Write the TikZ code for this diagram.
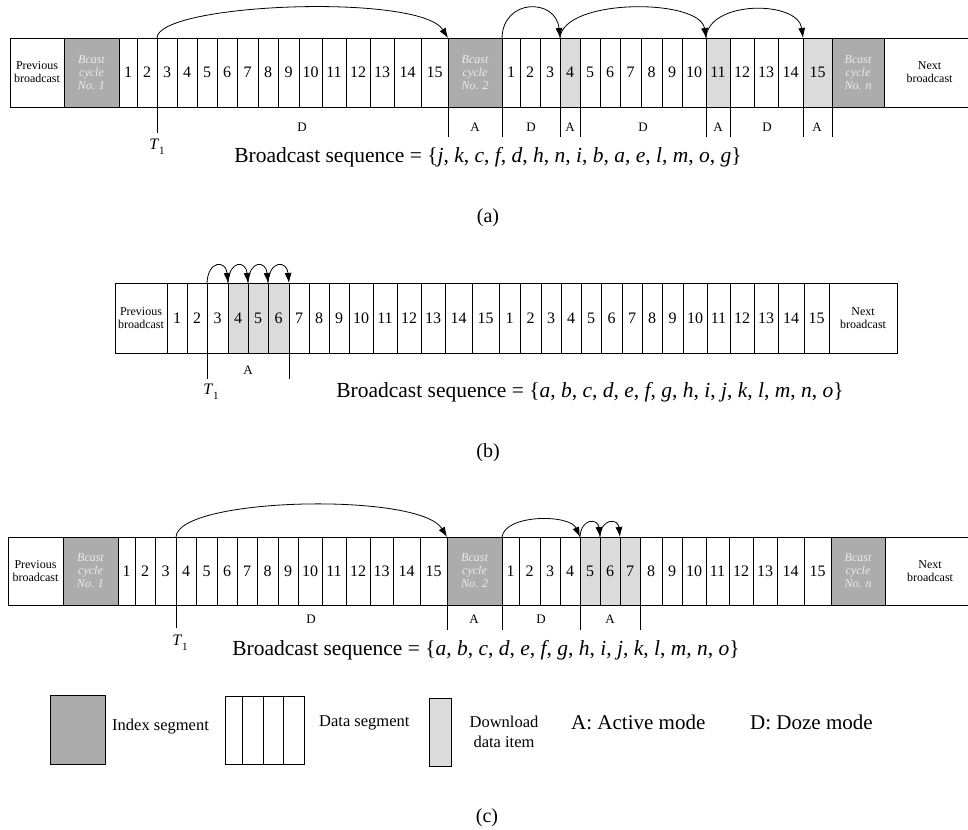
\documentclass[tikz,border=0pt]{standalone}
\usepackage{fontspec}
\setmainfont{Liberation Serif}
\usetikzlibrary{arrows.meta}
\tikzset{
  cell/.style={draw, line width=0.9pt, inner sep=0pt, outer sep=0pt, fill=white, font=\fontsize{16}{18}\selectfont},
  idx/.style={cell, fill=gray!65, text=white!85!gray, align=center, font=\fontsize{12}{13}\selectfont\itshape},
  dlcell/.style={fill=gray!28},
  endbox/.style={cell, align=center, font=\fontsize{12}{13}\selectfont},
  arcarrow/.style={line width=0.8pt, -{Latex[length=10pt,width=7pt]}},
  tick/.style={line width=0.8pt},
  modelab/.style={font=\fontsize{13}{15}\selectfont, inner sep=0pt},
  seqlab/.style={font=\fontsize{21.5}{25}\selectfont, inner sep=0pt},
  tlab/.style={font=\fontsize{16}{18}\selectfont, inner sep=0pt},
  caplab/.style={font=\fontsize{20}{24}\selectfont, inner sep=0pt},
  legtext/.style={font=\fontsize{16.5}{19}\selectfont, inner sep=0pt, anchor=west},
  dl a2-4/.style={dlcell}, dl a2-11/.style={dlcell}, dl a2-15/.style={dlcell},
  dl b1-4/.style={dlcell}, dl b1-5/.style={dlcell}, dl b1-6/.style={dlcell},
  dl c2-5/.style={dlcell}, dl c2-6/.style={dlcell}, dl c2-7/.style={dlcell},
}
\newcommand\mkcyc[4]{%
  \foreach \r [count=\i from 0, remember=\r as \l (initially 0)] in {#4}{%
    \ifnum\i>0
      \pgfmathsetmacro\w{\r-\l}%
      \pgfmathsetmacro\c{(\l+\r)/2}%
      \pgfmathsetmacro\h{#3-#2}%
      \pgfmathsetmacro\m{(#2+#3)/2}%
      \node[cell, minimum width=\w pt, minimum height=\h pt, dl #1-\i/.try] (#1-\i) at (\c,\m) {\i};%
    \fi}}
\newcommand\Tone{\textit{T}\raisebox{-0.3em}{\fontsize{11}{12}\selectfont 1}}
\begin{document}
\begin{tikzpicture}[x=1pt,y=-1pt]
\useasboundingbox (0,0) rectangle (968,829);
% ---------------- row (a)
\node[endbox, minimum width=54pt, minimum height=69pt] (aP) at (37,72.5) {Previous\\broadcast};
\node[idx, minimum width=55pt, minimum height=69pt] (aI1) at (91.5,72.5) {Bcast\\cycle\\No. 1};
\mkcyc{a1}{38}{107}{119,137,157,177,197,217,237,258,278,299,322,346,370,394,421,448}
\node[idx, minimum width=54pt, minimum height=69pt] (aI2) at (475,72.5) {Bcast\\cycle\\No. 2};
\mkcyc{a2}{38}{107}{502,520,540,560,580,600,620,641,662,682,706,730,754,778,803,832}
\node[idx, minimum width=52pt, minimum height=69pt] (aIn) at (858,72.5) {Bcast\\cycle\\No. \textit{n}};
\node[endbox, minimum width=91pt, minimum height=69pt] (aN) at (929.5,72.5) {Next\\broadcast};
\draw[arcarrow] (a1-3.north west) .. controls +(1,-35) and +(-28,-45) .. (aI2.north west);
\draw[arcarrow] (a2-1.north west) .. controls +(1,-40) and +(-4,-40) .. (a2-4.north west);
\draw[arcarrow] (a2-4.north west) .. controls +(3,-40) and +(-6,-40) .. (a2-11.north west);
\draw[arcarrow] (a2-11.north west) .. controls +(2,-38) and +(-5,-38) .. (a2-15.north west);
\draw[tick] (a1-3.north west) -- ++(0,95);
\foreach \n in {aI2,a2-1,a2-4,a2-5,a2-11,a2-12,a2-15,aIn}
  \draw[tick] (\n.south west) -- ++(0,30);
\node[tlab] (aT) at (157,147) {\Tone};
\node[modelab] (aD1) at (302,127) {D};
\node[modelab] (aA1) at (475,127) {A};
\node[modelab] (aD2) at (531,127) {D};
\node[modelab] (aA2) at (570,127) {A};
\node[modelab] (aD3) at (643,127) {D};
\node[modelab] (aA3) at (718,127) {A};
\node[modelab] (aD4) at (767,127) {D};
\node[modelab] (aA4) at (817,127) {A};
\node[seqlab] (aS) at (488,157) {Broadcast sequence = \{\textit{j}, \textit{k}, \textit{c}, \textit{f}, \textit{d}, \textit{h}, \textit{n}, \textit{i}, \textit{b}, \textit{a}, \textit{e}, \textit{l}, \textit{m}, \textit{o}, \textit{g}\}};
\node[caplab] (aC) at (488,218) {(a)};
% ---------------- row (b)
\node[endbox, minimum width=52pt, minimum height=70pt] (bP) at (141,318) {Previous\\broadcast};
\mkcyc{b1}{283}{353}{167,187,207,228,248,268,289,309,329,349,373,397,421,445,472,499}
\mkcyc{b2}{283}{353}{499,520,541,561,581,601,622,642,662,683,707,730,754,778,804,829}
\node[endbox, minimum width=68pt, minimum height=70pt] (bN) at (863,318) {Next\\broadcast};
\draw[arcarrow] (b1-3.north west) .. controls +(1,-23) and +(-2,-23) .. (b1-4.north west);
\draw[arcarrow] (b1-4.north west) .. controls +(1,-23) and +(-2,-23) .. (b1-5.north west);
\draw[arcarrow] (b1-5.north west) .. controls +(1,-23) and +(-2,-23) .. (b1-6.north west);
\draw[arcarrow] (b1-6.north west) .. controls +(1,-23) and +(-2,-23) .. (b1-7.north west);
\draw[tick] (b1-3.north west) -- ++(0,96);
\draw[tick] (b1-7.south west) -- ++(0,26);
\node[modelab] (bA1) at (248,370) {A};
\node[tlab] (bT) at (211,392) {\Tone};
\node[seqlab] (bS) at (590,392) {Broadcast sequence = \{\textit{a}, \textit{b}, \textit{c}, \textit{d}, \textit{e}, \textit{f}, \textit{g}, \textit{h}, \textit{i}, \textit{j}, \textit{k}, \textit{l}, \textit{m}, \textit{n}, \textit{o}\}};
\node[caplab] (bC) at (488,453) {(b)};
% ---------------- row (c)
\node[endbox, minimum width=55pt, minimum height=68pt] (cP) at (35.5,571) {Previous\\broadcast};
\node[idx, minimum width=55pt, minimum height=68pt] (cI1) at (90.5,571) {Bcast\\cycle\\No. 1};
\mkcyc{c1}{537}{605}{118,135,155,176,196,217,237,257,278,298,322,346,370,393,420,447}
\node[idx, minimum width=55pt, minimum height=68pt] (cI2) at (474.5,571) {Bcast\\cycle\\No. 2};
\mkcyc{c2}{537}{605}{502,519,540,560,580,600,620,640,662,682,706,729,753,777,804,831}
\node[idx, minimum width=54pt, minimum height=68pt] (cIn) at (858,571) {Bcast\\cycle\\No. \textit{n}};
\node[endbox, minimum width=90pt, minimum height=68pt] (cN) at (930,571) {Next\\broadcast};
\draw[arcarrow] (c1-4.north west) .. controls +(2,-40) and +(-27,-45) .. (cI2.north west);
\draw[arcarrow] (c2-1.north west) .. controls +(3,-23) and +(-10,-23) .. (c2-5.north west);
\draw[arcarrow] (c2-5.north west) .. controls +(1,-19) and +(-2,-19) .. (c2-6.north west);
\draw[arcarrow] (c2-6.north west) .. controls +(1,-19) and +(-2,-19) .. (c2-7.north west);
\draw[tick] (c1-4.north west) -- ++(0,91);
\foreach \n in {cI2,c2-1,c2-5,c2-8}
  \draw[tick] (\n.south west) -- ++(0,25);
\node[modelab] (cD1) at (311,619) {D};
\node[modelab] (cA1) at (474,619) {A};
\node[modelab] (cD2) at (541,619) {D};
\node[modelab] (cA2) at (610,619) {A};
\node[tlab] (cT) at (180,643) {\Tone};
\node[seqlab] (cS) at (486,650) {Broadcast sequence = \{\textit{a}, \textit{b}, \textit{c}, \textit{d}, \textit{e}, \textit{f}, \textit{g}, \textit{h}, \textit{i}, \textit{j}, \textit{k}, \textit{l}, \textit{m}, \textit{n}, \textit{o}\}};
% ---------------- legend
\node[idx, minimum width=55pt, minimum height=69pt] (lgI) at (77.5,729.5) {};
\node[legtext] (lgIt) at (112,727) {Index segment};
\node[cell, minimum width=17pt, minimum height=68pt] (lgD1) at (233.5,730) {};
\node[cell, minimum width=21pt, minimum height=68pt] (lgD2) at (252.5,730) {};
\node[cell, minimum width=20pt, minimum height=68pt] (lgD3) at (273,730) {};
\node[cell, minimum width=21pt, minimum height=68pt] (lgD4) at (293.5,730) {};
\node[legtext] (lgDt) at (319,723) {Data segment};
\node[cell, dlcell, minimum width=22pt, minimum height=68pt] (lgL) at (440,732) {};
\node[font=\fontsize{16.5}{20}\selectfont, align=center, inner sep=0pt] (lgLt) at (504,732) {Download\\data item};
\node[legtext, font=\fontsize{21}{24}\selectfont] (lgA) at (571,722) {A: Active mode};
\node[legtext, font=\fontsize{21}{24}\selectfont] (lgDz) at (750,722) {D: Doze mode};
\node[caplab] (cC) at (487,818) {(c)};
\end{tikzpicture}
\end{document}
